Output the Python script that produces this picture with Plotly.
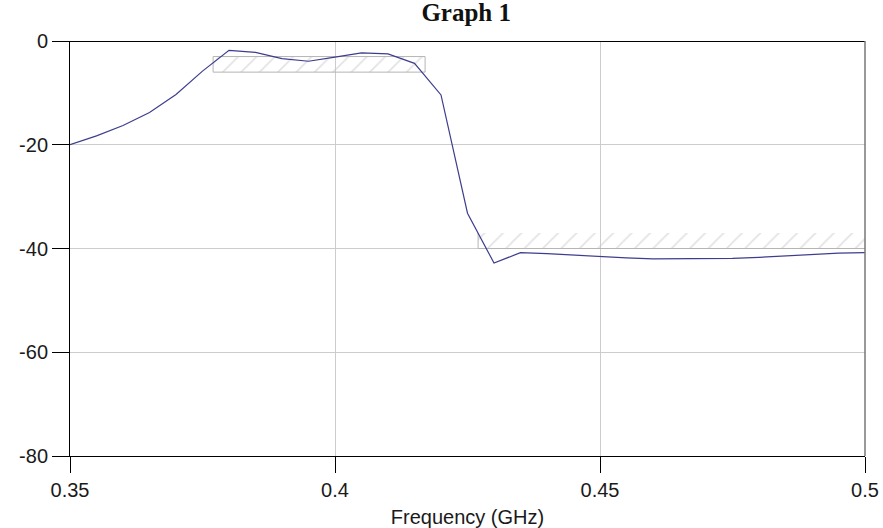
import plotly.graph_objects as go

# Response curve
freq_ghz = [0.35, 0.355, 0.36, 0.365, 0.37, 0.375, 0.38, 0.385, 0.39, 0.395,
            0.40, 0.405, 0.41, 0.415, 0.42, 0.425, 0.43, 0.435, 0.44, 0.445,
            0.45, 0.455, 0.46, 0.465, 0.47, 0.475, 0.48, 0.485, 0.49, 0.495, 0.50]
gain_db = [-20.0, -18.3, -16.3, -13.8, -10.3, -5.8, -1.8, -2.2, -3.4, -3.9,
           -3.1, -2.3, -2.5, -4.3, -10.4, -33.2, -42.8, -40.8, -41.0, -41.3,
           -41.6, -41.8, -42.0, -42.0, -42.0, -41.9, -41.7, -41.4, -41.1, -40.9, -40.8]

# Spec masks (hatched)
pass_mask_f = [0.377, 0.417]
pass_mask_db = [-3, -6]
stop_mask_f = [0.427, 0.50]
stop_mask_db = [-37, -40]

x_ticks = [0.35, 0.40, 0.45, 0.50]
x_tick_text = ["0.35", "0.4", "0.45", "0.5"]
y_ticks = [0, -20, -40, -60, -80]
y_tick_text = ["0", "-20", "-40", "-60", "-80"]

HATCH = "#c4c4c4"
OUTLINE = "#b5b5b5"

fig = go.Figure()

def box(f, d):
    return [f[0], f[1], f[1], f[0], f[0]], [d[0], d[0], d[1], d[1], d[0]]

for f, d in [(pass_mask_f, pass_mask_db), (stop_mask_f, stop_mask_db)]:
    bx, by = box(f, d)
    fig.add_trace(go.Scatter(
        x=bx, y=by, mode="lines", fill="toself",
        fillcolor="rgba(255,255,255,0)",
        fillpattern=dict(shape="/", fgcolor=HATCH, bgcolor="rgba(255,255,255,0)",
                         size=13, solidity=0.12),
        line=dict(width=0), hoverinfo="skip", showlegend=False))

# outlines
bx, by = box(pass_mask_f, pass_mask_db)
fig.add_trace(go.Scatter(x=bx, y=by, mode="lines",
                         line=dict(color=OUTLINE, width=1), showlegend=False, hoverinfo="skip"))
fig.add_trace(go.Scatter(x=[stop_mask_f[0], stop_mask_f[0], stop_mask_f[1]],
                         y=[stop_mask_db[0], stop_mask_db[1], stop_mask_db[1]], mode="lines",
                         line=dict(color=OUTLINE, width=1), showlegend=False, hoverinfo="skip"))

fig.add_trace(go.Scatter(x=freq_ghz, y=gain_db, mode="lines",
                         line=dict(color="#3d3d8f", width=1.2), showlegend=False))

fig.add_shape(type="line", xref="paper", yref="paper", x0=1, x1=1, y0=0, y1=1,
              line=dict(color="#777777", width=1.5))

fig.update_layout(
    width=883, height=528,
    margin=dict(l=70, r=18, t=41, b=72),
    paper_bgcolor="white", plot_bgcolor="white",
    title=dict(text="<b>Graph 1</b>", x=0.528, xanchor="center", y=0.977, yanchor="middle",
               font=dict(family="Liberation Serif", size=25, color="#111111")),
    font=dict(family="Liberation Sans", size=20, color="#1a1a1a"),
)
fig.update_xaxes(
    range=[0.35, 0.5], tickvals=x_ticks, ticktext=x_tick_text,
    showgrid=True, gridcolor="#cccccc", gridwidth=1,
    showline=True, linecolor="black", linewidth=1,
    ticks="outside", ticklen=16, tickcolor="black",
    zeroline=False, automargin=False,
    title=dict(text="Frequency (GHz)", font=dict(size=20), standoff=12),
)
fig.update_yaxes(
    range=[-80, 0], tickvals=y_ticks, ticktext=y_tick_text,
    showgrid=True, gridcolor="#cccccc", gridwidth=1,
    showline=True, linecolor="black", linewidth=1,
    ticks="outside", ticklen=17, tickcolor="black", automargin=False,
    zeroline=True, zerolinecolor="black", zerolinewidth=1,
)

fig.write_html("out.html")
